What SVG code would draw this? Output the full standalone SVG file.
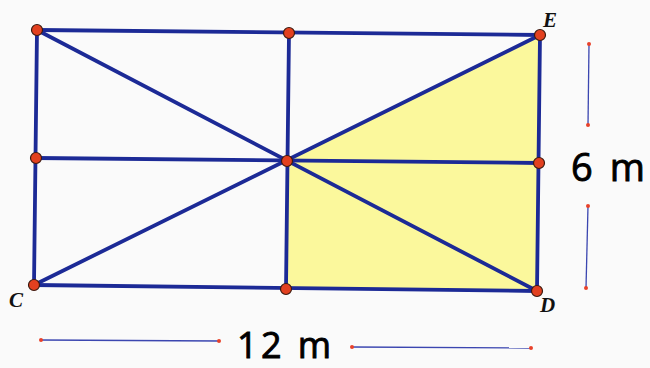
<svg xmlns="http://www.w3.org/2000/svg" width="650" height="368" viewBox="0 0 650 368">
<style>
.seg{stroke:#1c2a96;stroke-width:3.8;stroke-linecap:round;fill:none}
.pt{fill:#e2401f;stroke:#3a1a10;stroke-width:1.2}
.dim{stroke:#3b46b0;stroke-width:1.3}
.dp{fill:#e8412a}
.lbl{font-family:"Liberation Serif",serif;font-style:italic;font-weight:bold;font-size:21px;fill:#111}
.big{font-family:"Open Sans","Liberation Sans",sans-serif;font-size:38px;fill:#000;stroke:#000;stroke-width:0.9}
.b12{font-size:36px}
</style>
<rect width="650" height="368" fill="#fafafa"/>
<g id="shaded">
<polygon points="287,161 540,35 537,291 286,289" fill="#fbf89c"/>
</g>
<g id="connectors">
<line class="seg" x1="37" y1="30" x2="540" y2="35"/>
<line class="seg" x1="34" y1="285" x2="537" y2="291"/>
<line class="seg" x1="37" y1="30" x2="34" y2="285"/>
<line class="seg" x1="540" y1="35" x2="537" y2="291"/>
<line class="seg" x1="36" y1="158" x2="539" y2="163"/>
<line class="seg" x1="289" y1="33" x2="286" y2="289"/>
<line class="seg" x1="37" y1="30" x2="537" y2="291"/>
<line class="seg" x1="34" y1="285" x2="540" y2="35"/>
</g>
<g id="points">
<circle class="pt" cx="37" cy="30" r="5.5"/>
<circle class="pt" cx="289" cy="33" r="5.5"/>
<circle class="pt" cx="540" cy="35" r="5.5"/>
<circle class="pt" cx="36" cy="158" r="5.5"/>
<circle class="pt" cx="287" cy="161" r="5.5"/>
<circle class="pt" cx="539" cy="163" r="5.5"/>
<circle class="pt" cx="34" cy="285" r="5.5"/>
<circle class="pt" cx="286" cy="289" r="5.5"/>
<circle class="pt" cx="537" cy="291" r="5.5"/>
</g>
<g id="labels">
<text class="lbl" x="543" y="27">E</text>
<text class="lbl" x="9" y="307">C</text>
<text class="lbl" x="540" y="312">D</text>
</g>
<g id="dim-6m">
<line class="dim" x1="589" y1="44" x2="588" y2="125"/>
<line class="dim" x1="588" y1="206" x2="586" y2="288"/>
<circle class="dp" cx="589" cy="44" r="2"/>
<circle class="dp" cx="588" cy="125" r="2"/>
<circle class="dp" cx="588" cy="206" r="2"/>
<circle class="dp" cx="586" cy="288" r="2"/>
<text class="big" x="571" y="181" textLength="74" lengthAdjust="spacing">6 m</text>
</g>
<g id="dim-12m">
<line class="dim" x1="41" y1="340" x2="219" y2="341"/>
<line class="dim" x1="352" y1="347" x2="531" y2="348"/>
<circle class="dp" cx="41" cy="340" r="2"/>
<circle class="dp" cx="219" cy="341" r="2"/>
<circle class="dp" cx="352" cy="347" r="2"/>
<circle class="dp" cx="531" cy="348" r="2"/>
<text class="big b12" x="237" y="358" textLength="94" lengthAdjust="spacing">12 m</text>
</g>
</svg>
